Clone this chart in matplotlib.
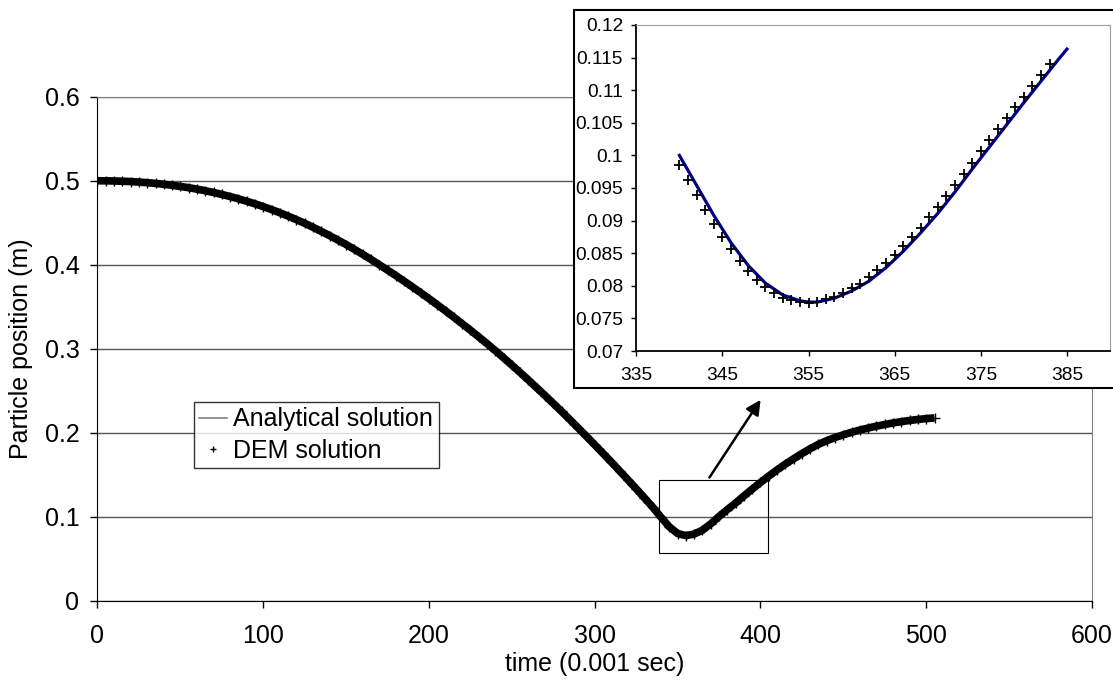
import numpy as np
import matplotlib
matplotlib.use("Agg")
import matplotlib.pyplot as plt
from matplotlib.lines import Line2D
from matplotlib.patches import Rectangle
from matplotlib.ticker import FuncFormatter

plt.rcParams['font.family'] = ['Liberation Sans', 'DejaVu Sans']

# main curve, read every 5 steps (time in 0.001 s)
t_main = np.arange(0, 506, 5)
pos_main = [0.5000, 0.4999, 0.4997, 0.4994, 0.4990, 0.4984, 0.4977, 0.4968, 0.4958, 0.4946,
            0.4932, 0.4917, 0.4900, 0.4881, 0.4860, 0.4837, 0.4812, 0.4785, 0.4756, 0.4725,
            0.4692, 0.4657, 0.4619, 0.4579, 0.4537, 0.4493, 0.4446, 0.4397, 0.4347, 0.4294,
            0.4240, 0.4183, 0.4124, 0.4063, 0.4000, 0.3936, 0.3871, 0.3804, 0.3736, 0.3667,
            0.3596, 0.3524, 0.3450, 0.3375, 0.3298, 0.3221, 0.3141, 0.3061, 0.2978, 0.2892,
            0.2805, 0.2717, 0.2627, 0.2535, 0.2443, 0.2348, 0.2253, 0.2156, 0.2057, 0.1957,
            0.1856, 0.1754, 0.1651, 0.1546, 0.1440, 0.1333, 0.1224, 0.1113, 0.0993, 0.0880,
            0.0800, 0.0775, 0.0794, 0.0840, 0.0915, 0.1003, 0.1085, 0.1163, 0.1247, 0.1329,
            0.1408, 0.1484, 0.1557, 0.1626, 0.1690, 0.1752, 0.1810, 0.1862, 0.1905, 0.1943,
            0.1975, 0.2005, 0.2032, 0.2056, 0.2078, 0.2098, 0.2116, 0.2132, 0.2146, 0.2158,
            0.2168, 0.2176]

# zoomed part
t_analytic = [340, 342, 344, 346, 348, 350, 352, 354, 355, 356, 358, 360, 362, 364, 366,
              368, 370, 372, 374, 376, 378, 380, 382, 384, 385]
pos_analytic = [0.1000, 0.0954, 0.0908, 0.0866, 0.0831, 0.0804, 0.0786, 0.0777, 0.0775, 0.0775,
                0.0781, 0.0792, 0.0807, 0.0828, 0.0853, 0.0881, 0.0911, 0.0944, 0.0979, 0.1013,
                0.1047, 0.1081, 0.1114, 0.1147, 0.1163]
t_dem = np.arange(340, 384)
pos_dem = [0.0986, 0.0963, 0.0940, 0.0917, 0.0895, 0.0875, 0.0856, 0.0838, 0.0822, 0.0809,
           0.0798, 0.0789, 0.0782, 0.0778, 0.0775, 0.0774, 0.0775, 0.0779, 0.0783, 0.0789,
           0.0796, 0.0803, 0.0813, 0.0824, 0.0835, 0.0847, 0.0861, 0.0875, 0.0889, 0.0905,
           0.0921, 0.0938, 0.0954, 0.0972, 0.0989, 0.1006, 0.1023, 0.1040, 0.1057, 0.1074,
           0.1090, 0.1106, 0.1123, 0.1140]

fmt = FuncFormatter(lambda v, p: f"{round(v, 4):g}")
FS = 18
FS_IN = 13.8

fig = plt.figure(figsize=(11.13, 6.9), dpi=100)
ax = fig.add_axes([0.0876, 0.1294, 0.8935, 0.7304], zorder=0)

# dense DEM crosses look like a thick black band
ax.plot(t_main, pos_main, color="black", lw=5.5, solid_capstyle="butt", zorder=3)
ax.plot(t_main, pos_main, ls="none", marker="+", ms=7, mew=1.0, color="black", zorder=3)

ax.set_xlim(0, 600)
ax.set_ylim(0, 0.6)
ax.set_xticks(range(0, 601, 100))
ax.set_yticks(np.arange(0, 0.61, 0.1))
ax.yaxis.set_major_formatter(fmt)
ax.grid(axis="y", color="#555555", lw=1)
ax.set_axisbelow(True)
for s in ["top", "right"]:
    ax.spines[s].set_color("#808080")
ax.tick_params(direction="out", length=5, width=1, labelsize=FS)
ax.tick_params(axis="x", pad=12)
ax.tick_params(axis="y", pad=8)
ax.set_xlabel("time (0.001 sec)", fontsize=FS, labelpad=3)
ax.set_ylabel("Particle position (m)", fontsize=FS, labelpad=8)

# box marking zoomed region + arrow
ax.add_patch(Rectangle((339, 0.0573), 65.7, 0.087, fill=False, ec="black", lw=0.8, zorder=2))
ax.annotate("", xy=(401, 0.242), xytext=(368.3, 0.144),
            arrowprops=dict(arrowstyle="-|>", color="black", lw=1.8, mutation_scale=22),
            annotation_clip=False, zorder=4)

handles = [Line2D([], [], color="#808080", lw=1.2),
           Line2D([], [], ls="none", marker="+", color="black", ms=5, mew=1)]
leg = ax.legend(handles, ["Analytical solution", "DEM solution"], loc="upper left",
                bbox_to_anchor=(0.1743, 0.4174), bbox_transform=fig.transFigure,
                fontsize=FS, frameon=True, fancybox=False, edgecolor="black",
                borderpad=0.22, handlelength=1.1, handletextpad=0.25, labelspacing=0.3,
                borderaxespad=0)
leg.get_frame().set_linewidth(1)
leg.set_zorder(5)

# frame around inset
fig.add_artist(Rectangle((0.516, 0.4381), 0.6, 0.5474, transform=fig.transFigure,
                         fc="white", ec="black", lw=1.5, zorder=1))

ins = fig.add_axes([0.5717, 0.4913, 0.4256, 0.4725], zorder=2)
ins.plot(t_analytic, pos_analytic, color="#000080", lw=2.3, zorder=2)
ins.plot(t_dem, pos_dem, ls="none", marker="+", ms=7, mew=1.3, color="black", zorder=3)
ins.set_xlim(335, 390)
ins.set_ylim(0.07, 0.12)
ins.set_xticks(range(335, 386, 10))
ins.set_yticks(np.arange(0.07, 0.1201, 0.005))
ins.yaxis.set_major_formatter(fmt)
for s in ["top", "right"]:
    ins.spines[s].set_color("#a0a0a0")
ins.spines["left"].set_linewidth(1.3)
ins.spines["bottom"].set_linewidth(1.3)
ins.tick_params(direction="out", length=3.5, width=1, labelsize=FS_IN)
ins.tick_params(axis="x", pad=8)
ins.tick_params(axis="y", pad=6)

fig.savefig("out.png", dpi=100)
